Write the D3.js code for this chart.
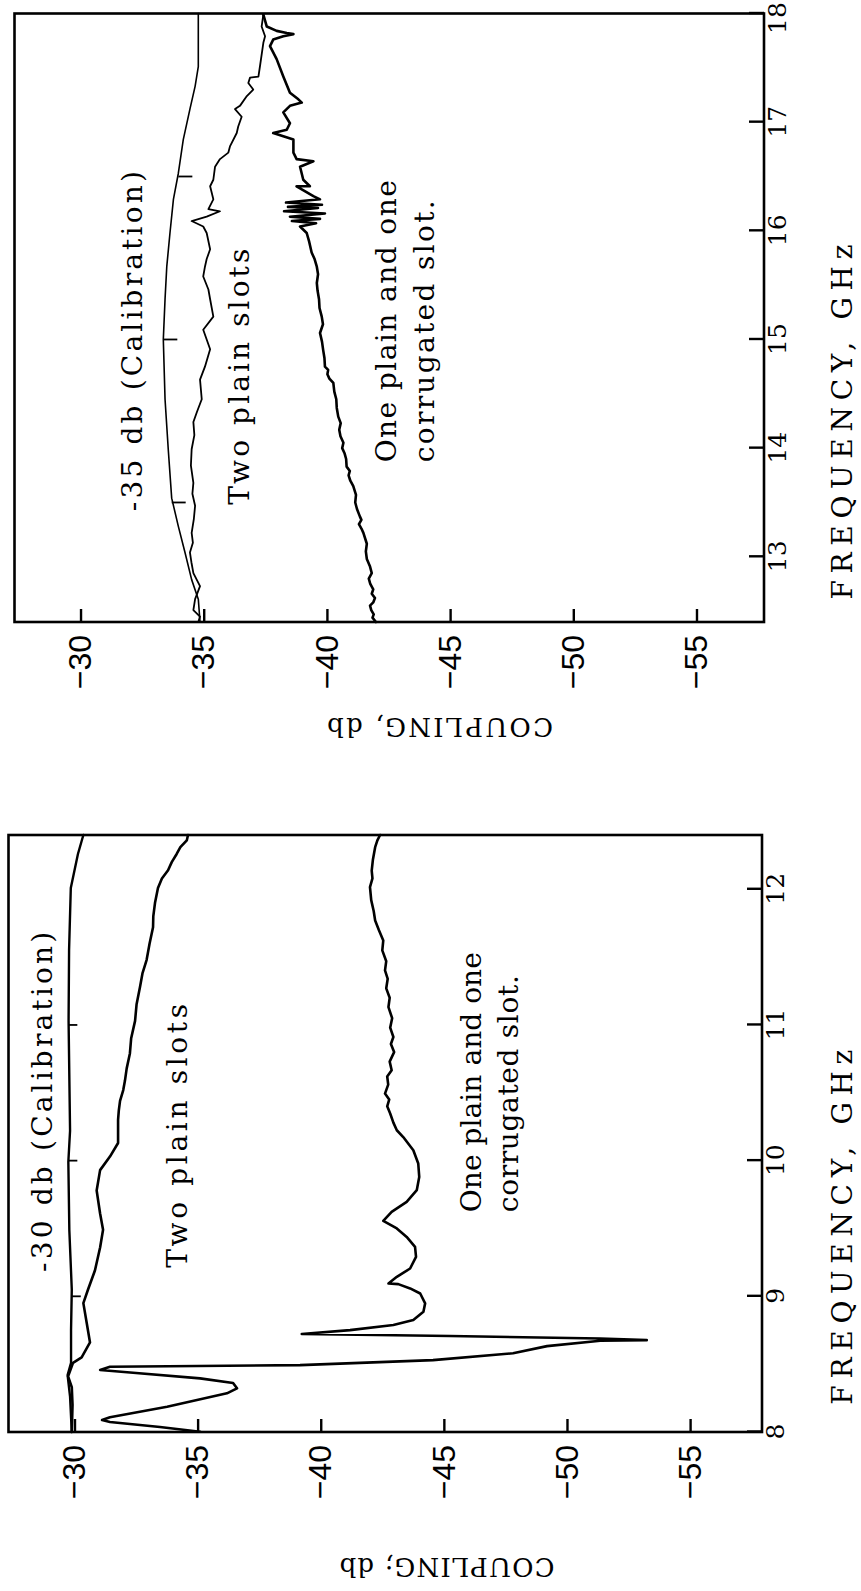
<!DOCTYPE html>
<html>
<head>
<meta charset="utf-8">
<script src="https://cdn.jsdelivr.net/npm/d3@7"></script>
<style>
  html, body { margin: 0; padding: 0; background: #ffffff; }
  svg { display: block; }
</style>
</head>
<body>
<svg id="chart" width="861" height="1591"></svg>
<script>
// ---- Tick values ----
const lowFreqTicks = [8, 9, 10, 11, 12];
const highFreqTicks = [13, 14, 15, 16, 17, 18];
const couplingTicks = [-30, -35, -40, -45, -50, -55];

// ---- 8 - 12.4 GHz band: [frequency GHz, coupling dB] ----
const lowCalibration = [
  [8.00, -29.89], [8.26, -29.82], [8.42, -29.72], [8.51, -29.86], [8.75, -29.86],
  [9.05, -29.89], [9.49, -29.79], [9.99, -29.75], [10.22, -29.82], [11.03, -29.76],
  [11.55, -29.78], [12.01, -29.85], [12.26, -30.14], [12.40, -30.36]
];
const lowCalMarks = [[9, -29.89], [10, -29.75], [11, -29.75]];

const lowTwoPlain = [
  [8.00, -29.89], [8.20, -29.92], [8.33, -29.89], [8.41, -29.74], [8.51, -29.94],
  [8.55, -30.29], [8.66, -30.63], [8.80, -30.50], [8.95, -30.36], [9.05, -30.55],
  [9.19, -30.83], [9.36, -31.04], [9.49, -31.16], [9.61, -31.04], [9.78, -30.90],
  [9.93, -31.04], [10.03, -31.44], [10.13, -31.77], [10.22, -31.77], [10.30, -31.77],
  [10.37, -31.80], [10.44, -31.85], [10.52, -31.98], [10.59, -32.05], [10.68, -32.12],
  [10.79, -32.25], [10.90, -32.30], [11.03, -32.46], [11.15, -32.52], [11.28, -32.66],
  [11.38, -32.76], [11.48, -32.93], [11.60, -33.05], [11.72, -33.19], [11.80, -33.20],
  [11.90, -33.27], [12.01, -33.39], [12.08, -33.55], [12.14, -33.80], [12.20, -33.95],
  [12.26, -34.15], [12.31, -34.30], [12.36, -34.56], [12.40, -34.61]
];

const lowCorrugated = [
  [8.002, -35.10], [8.037, -33.47], [8.074, -31.44], [8.088, -31.12], [8.108, -31.44],
  [8.186, -33.76], [8.285, -36.19], [8.322, -36.60], [8.361, -36.44], [8.395, -35.10],
  [8.437, -32.38], [8.457, -31.04], [8.481, -31.44], [8.493, -39.16], [8.530, -44.56],
  [8.580, -47.81], [8.633, -49.19], [8.672, -51.35], [8.677, -53.24], [8.689, -51.35],
  [8.707, -45.25], [8.722, -39.23], [8.751, -41.19], [8.788, -42.95], [8.825, -43.76],
  [8.886, -44.17], [8.948, -44.24], [9.021, -44.04], [9.058, -43.63], [9.090, -43.15],
  [9.095, -42.75], [9.144, -43.09], [9.205, -43.63], [9.291, -43.87], [9.365, -43.83],
  [9.438, -43.49], [9.500, -43.09], [9.556, -42.54], [9.622, -42.88], [9.696, -43.49],
  [9.782, -43.90], [9.880, -44.00], [9.979, -43.96], [10.077, -43.76], [10.174, -43.35],
  [10.224, -43.09], [10.28, -42.95], [10.347, -42.82], [10.40, -42.70], [10.45, -42.78],
  [10.494, -42.61], [10.56, -42.74], [10.62, -42.70], [10.666, -42.88], [10.73, -42.80],
  [10.80, -42.98], [10.86, -42.85], [10.911, -42.95], [10.98, -42.82], [11.05, -42.90],
  [11.132, -42.75], [11.20, -42.80], [11.27, -42.66], [11.34, -42.72], [11.402, -42.61],
  [11.47, -42.66], [11.55, -42.50], [11.623, -42.54], [11.70, -42.36], [11.770, -42.21],
  [11.84, -42.15], [11.92, -42.05], [12.016, -42.00], [12.08, -42.10], [12.138, -42.07],
  [12.22, -42.12], [12.310, -42.21], [12.36, -42.30], [12.400, -42.41]
];

// ---- 12.4 - 18 GHz band ----
const highCalibration = [
  [12.40, -34.85], [12.61, -34.78], [12.79, -34.51], [13.04, -34.24], [13.28, -33.97],
  [13.54, -33.70], [13.99, -33.56], [14.45, -33.43], [15.00, -33.36], [15.37, -33.43],
  [15.67, -33.50], [15.98, -33.63], [16.29, -33.77], [16.53, -33.97], [16.84, -34.17],
  [17.12, -34.44], [17.33, -34.65], [17.51, -34.78], [18.00, -34.78]
];
const highCalMarks = [[13.5, -33.70], [15, -33.36], [16.5, -33.97]];

const highTwoPlain = [
  [12.40, -34.78], [12.45, -34.85], [12.51, -34.58], [12.61, -34.65], [12.73, -34.85],
  [12.85, -34.58], [12.95, -34.50], [13.04, -34.44], [13.13, -34.56], [13.22, -34.51],
  [13.35, -34.60], [13.47, -34.65], [13.58, -34.54], [13.68, -34.58], [13.84, -34.48],
  [13.99, -34.51], [14.12, -34.62], [14.24, -34.58], [14.33, -34.72], [14.45, -34.92],
  [14.63, -34.85], [14.75, -35.05], [14.91, -35.26], [15.09, -34.98], [15.21, -35.39],
  [15.37, -35.26], [15.46, -35.19], [15.58, -34.98], [15.67, -35.05], [15.74, -35.12],
  [15.83, -35.26], [15.98, -35.12], [16.04, -34.98], [16.09, -34.51], [16.13, -35.12],
  [16.18, -35.66], [16.20, -35.19], [16.29, -35.39], [16.41, -35.26], [16.47, -35.39],
  [16.59, -35.46], [16.66, -35.66], [16.72, -36.00], [16.78, -36.07], [16.90, -36.34],
  [16.96, -36.40], [17.05, -36.54], [17.12, -36.27], [17.15, -36.47], [17.24, -36.75],
  [17.30, -37.01], [17.36, -36.81], [17.41, -36.88], [17.42, -37.22], [17.51, -37.28],
  [17.73, -37.42], [17.79, -37.49], [17.88, -37.35], [17.99, -37.42]
];

const highCorrugated = [
  [12.40, -41.99], [12.44, -41.85], [12.47, -41.90], [12.51, -41.80], [12.55, -41.75],
  [12.58, -41.88], [12.62, -41.95], [12.66, -41.82], [12.70, -41.88], [12.75, -41.76],
  [12.80, -41.70], [12.85, -41.82], [12.91, -41.75], [12.98, -41.62], [13.05, -41.58],
  [13.12, -41.62], [13.22, -41.48], [13.26, -41.40], [13.30, -41.30], [13.34, -41.40],
  [13.37, -41.34], [13.44, -41.22], [13.50, -41.15], [13.57, -41.18], [13.65, -41.07],
  [13.70, -40.95], [13.75, -40.88], [13.79, -40.93], [13.83, -40.80], [13.90, -40.78],
  [13.95, -40.72], [14.00, -40.62], [14.05, -40.67], [14.11, -40.55], [14.17, -40.50],
  [14.23, -40.56], [14.29, -40.46], [14.37, -40.40], [14.45, -40.38], [14.52, -40.30],
  [14.60, -40.26], [14.64, -40.10], [14.68, -40.02], [14.72, -40.05], [14.75, -39.92],
  [14.83, -39.90], [14.90, -39.85], [14.98, -39.80], [15.06, -39.72], [15.14, -39.84],
  [15.21, -39.79], [15.29, -39.70], [15.37, -39.68], [15.45, -39.62], [15.52, -39.59],
  [15.60, -39.64], [15.67, -39.59], [15.74, -39.50], [15.80, -39.38], [15.90, -39.28],
  [15.98, -39.18], [16.04, -38.91], [16.07, -39.56], [16.09, -38.58], [16.11, -39.72],
  [16.13, -38.50], [16.16, -39.92], [16.18, -38.26], [16.21, -39.64], [16.22, -38.42],
  [16.24, -39.80], [16.26, -38.34], [16.29, -39.72], [16.32, -39.45], [16.41, -38.77],
  [16.41, -39.31], [16.47, -39.04], [16.59, -38.91], [16.64, -39.45], [16.66, -38.77],
  [16.72, -38.64], [16.84, -38.64], [16.87, -38.23], [16.90, -37.82], [16.93, -38.37],
  [16.99, -38.50], [17.09, -38.23], [17.15, -38.50], [17.18, -38.98], [17.21, -38.84],
  [17.27, -38.50], [17.42, -38.23], [17.58, -37.96], [17.70, -37.69], [17.76, -37.82],
  [17.79, -38.23], [17.81, -38.64], [17.82, -38.37], [17.84, -37.96], [17.88, -37.56],
  [17.99, -37.42]
];

// ---- Panel layout (screen placement of each rotated plot) ----
const panels = [
  {
    left: 8.5, bottom: 1432, width: 597, height: 753.5,
    freqDomain: [8, 12.4], couplingDomain: [-27.32, -57.92],
    freqTicks: lowFreqTicks,
    series: [
      { data: lowCalibration, width: 2.4 },
      { data: lowTwoPlain, width: 2.6 },
      { data: lowCorrugated, width: 2.6 }
    ],
    marks: lowCalMarks, markLen: 9,
    notes: [
      { text: "-30 db (Calibration)", freq: 9.18, db: -29.09, len: 340 },
      { text: "Two plain slots", freq: 9.21, db: -34.57, len: 264 },
      { text: "One plain and one", freq: 9.62, db: -46.51, len: 260 },
      { text: "corrugated slot.", freq: 9.62, db: -48.01, len: 237 }
    ],
    freqTitle: { freq: 9.51, offset: 833.5 },
    couplingTitle: { text: "COUPLING; db", along: -135, across: 438.5, len: 215 }
  },
  {
    left: 14.5, bottom: 622, width: 608.5, height: 749.5,
    freqDomain: [12.4, 18], couplingDomain: [-27.32, -57.74],
    freqTicks: highFreqTicks,
    series: [
      { data: highCalibration, width: 1.6 },
      { data: highTwoPlain, width: 1.8 },
      { data: highCorrugated, width: 2.6 }
    ],
    marks: highCalMarks, markLen: 14,
    notes: [
      { text: "-35 db (Calibration)", freq: 13.42, db: -32.50, len: 340 },
      { text: "Two plain slots", freq: 13.48, db: -36.84, len: 256 },
      { text: "One plain and one", freq: 13.87, db: -42.80, len: 282 },
      { text: "corrugated slot.", freq: 13.87, db: -44.35, len: 262 }
    ],
    freqTitle: { freq: 14.24, offset: 827.5 },
    couplingTitle: { text: "COUPLING, db", along: -105, across: 425.5, len: 226 }
  }
];

const svg = d3.select("#chart");
const serif = "'DejaVu Serif', 'Liberation Serif', serif";
const sans = "'Liberation Sans', Arial, sans-serif";

panels.forEach(p => {
  // Each plot is laid out conventionally (frequency across, coupling down)
  // and then turned a quarter turn counter-clockwise.
  const g = svg.append("g")
    .attr("transform", `translate(${p.left},${p.bottom}) rotate(-90)`);

  const x = d3.scaleLinear().domain(p.freqDomain).range([0, p.width]);
  const y = d3.scaleLinear().domain(p.couplingDomain).range([0, p.height]);
  const fMax = p.freqDomain[1];

  // Frequency axis with inward ticks
  const fAxis = g.append("g")
    .attr("transform", `translate(0,${p.height})`)
    .call(d3.axisBottom(x).tickValues(p.freqTicks).tickFormat(d3.format("d"))
      .tickSizeInner(-15).tickSizeOuter(0).tickPadding(4));
  fAxis.select(".domain").remove();
  fAxis.selectAll("line").attr("stroke", "#000").attr("stroke-width", 2.4);
  fAxis.selectAll("text")
    .attr("font-family", serif).attr("font-size", 25).attr("fill", "#000")
    // keep a label that sits on the frame corner inside the page
    .attr("dx", d => (fMax - d < 0.2 ? -5 : 0));

  // Coupling axis with inward ticks
  const cAxis = g.append("g")
    .call(d3.axisLeft(y).tickValues(couplingTicks)
      .tickSizeInner(-13).tickSizeOuter(0).tickPadding(13));
  cAxis.select(".domain").remove();
  cAxis.selectAll("line").attr("stroke", "#000").attr("stroke-width", 2.4);
  cAxis.selectAll("text").attr("font-family", sans).attr("font-size", 32).attr("fill", "#000");

  // Frame
  g.append("rect")
    .attr("x", 0).attr("y", 0)
    .attr("width", p.width).attr("height", p.height)
    .attr("fill", "none").attr("stroke", "#000").attr("stroke-width", 2.6);

  // Curves
  const line = d3.line().x(d => x(d[0])).y(d => y(d[1])).curve(d3.curveLinear);
  p.series.forEach(s => {
    g.append("path")
      .datum(s.data)
      .attr("d", line)
      .attr("fill", "none")
      .attr("stroke", "#000")
      .attr("stroke-width", s.width)
      .attr("stroke-linejoin", "round")
      .attr("stroke-linecap", "round");
  });

  // Frequency marks along the calibration trace
  g.selectAll("line.calmark")
    .data(p.marks)
    .join("line")
    .attr("class", "calmark")
    .attr("x1", d => x(d[0])).attr("x2", d => x(d[0]))
    .attr("y1", d => y(d[1])).attr("y2", d => y(d[1]) + p.markLen)
    .attr("stroke", "#000").attr("stroke-width", 1.8);

  // Curve annotations
  g.selectAll("text.note")
    .data(p.notes)
    .join("text")
    .attr("class", "note")
    .attr("x", d => x(d.freq))
    .attr("y", d => y(d.db))
    .attr("textLength", d => d.len)
    .attr("lengthAdjust", "spacing")
    .attr("font-family", serif)
    .attr("font-size", 28)
    .attr("fill", "#000")
    .text(d => d.text);

  // Axis titles
  g.append("text")
    .attr("x", x(p.freqTitle.freq))
    .attr("y", p.freqTitle.offset)
    .attr("text-anchor", "middle")
    .attr("dominant-baseline", "central")
    .attr("textLength", 355)
    .attr("lengthAdjust", "spacing")
    .attr("font-family", serif)
    .attr("font-size", 28)
    .text("FREQUENCY,  GHz");

  g.append("text")
    .attr("transform", `translate(${p.couplingTitle.along},${p.couplingTitle.across}) rotate(-90)`)
    .attr("text-anchor", "middle")
    .attr("dominant-baseline", "central")
    .attr("textLength", p.couplingTitle.len)
    .attr("lengthAdjust", "spacing")
    .attr("font-family", serif)
    .attr("font-size", 26)
    .text(p.couplingTitle.text);
});
</script>
</body>
</html>
